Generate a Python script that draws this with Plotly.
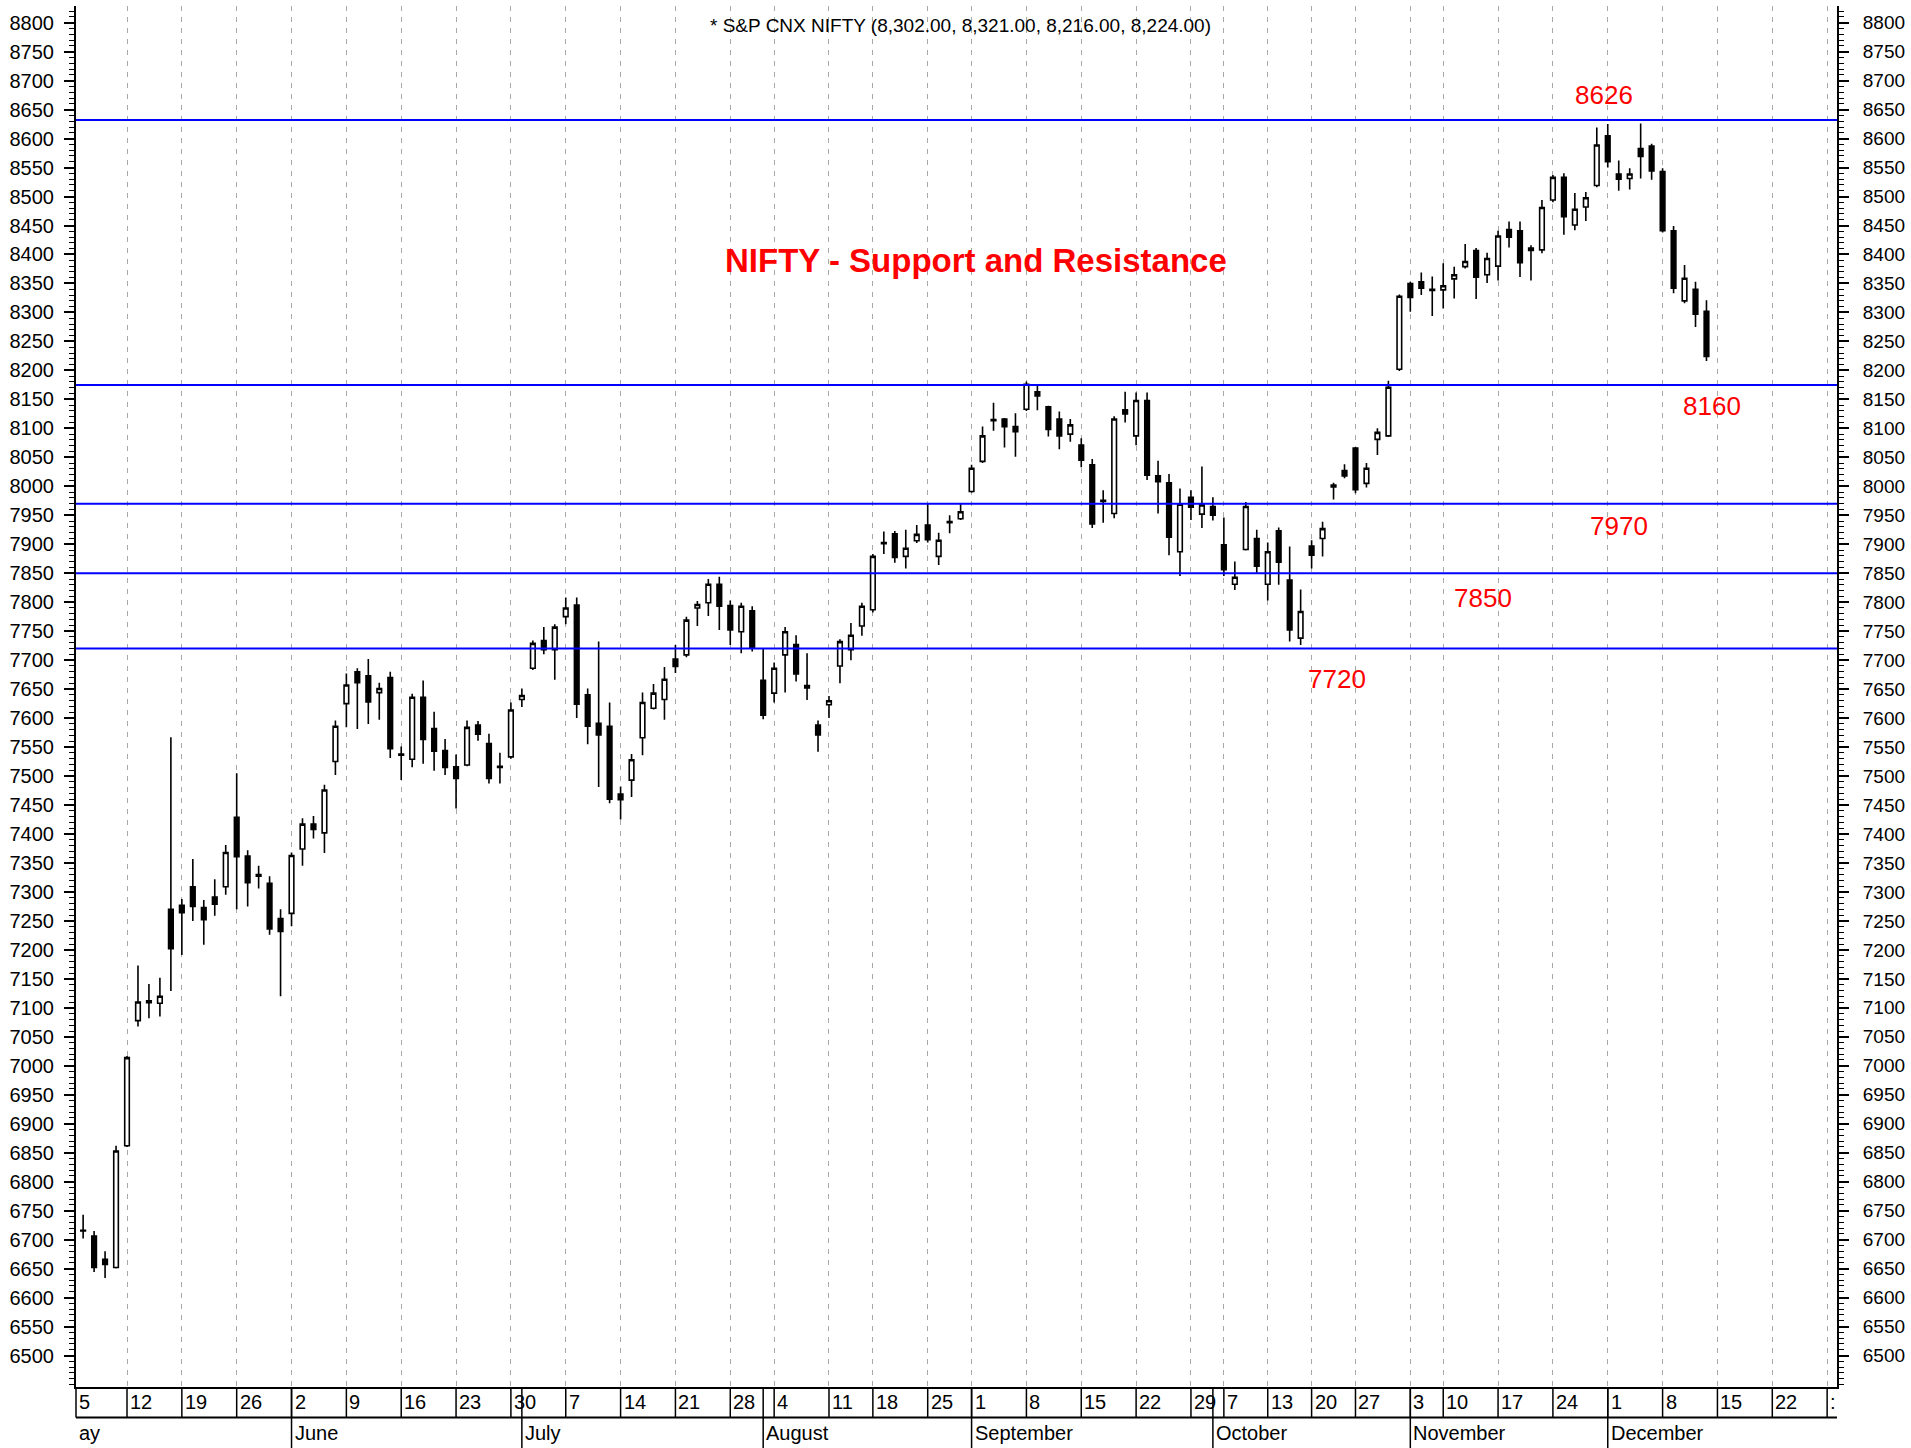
import pandas as pd
import plotly.graph_objects as go

# ---------------- data ----------------
HOLIDAYS = ["2014-07-29", "2014-08-15", "2014-08-29", "2014-10-02", "2014-10-03",
            "2014-10-06", "2014-10-15", "2014-10-24", "2014-11-04", "2014-11-06"]
FIRST_DAY = "2014-05-05"
LAST_DAY = "2014-12-12"
AXIS_END = "2014-12-31"

OPEN = [6715, 6706, 6666, 6652, 6862, 7078, 7112, 7108, 7270, 7277,
        7309, 7273, 7291, 7309, 7429, 7362, 7327, 7315, 7254, 7263,
        7374, 7417, 7402, 7525, 7625, 7680, 7673, 7644, 7670, 7536,
        7529, 7636, 7582, 7544, 7516, 7519, 7588, 7556, 7515, 7533,
        7632, 7686, 7734, 7718, 7775, 7795, 7640, 7591, 7586, 7469,
        7493, 7566, 7617, 7632, 7702, 7709, 7790, 7799, 7831, 7794,
        7749, 7785, 7665, 7643, 7709, 7727, 7656, 7588, 7623, 7690,
        7718, 7759, 7787, 7901, 7918, 7879, 7906, 7933, 7879, 7937,
        7944, 7991, 8043, 8113, 8116, 8103, 8133, 8163, 8137, 8116,
        8090, 8071, 8037, 7974, 7953, 8132, 8087, 8148, 8018, 8006,
        7887, 7981, 7952, 7965, 7899, 7831, 7891, 7910, 7831, 7923,
        7838, 7738, 7897, 7910, 7999, 8027, 8066, 8005, 8081, 8087,
        8202, 8350, 8353, 8338, 8339, 8358, 8379, 8407, 8365, 8380,
        8443, 8441, 8411, 8408, 8494, 8533, 8451, 8482, 8519, 8605,
        8539, 8531, 8583, 8587, 8543, 8441, 8320, 8340, 8302]
HIGH = [6743, 6715, 6680, 6862, 7017, 7173, 7141, 7152, 7567, 7288,
        7357, 7286, 7322, 7381, 7505, 7372, 7345, 7327, 7270, 7368,
        7427, 7431, 7485, 7596, 7677, 7686, 7702, 7661, 7680, 7551,
        7642, 7665, 7611, 7564, 7537, 7596, 7595, 7573, 7540, 7627,
        7651, 7734, 7757, 7762, 7808, 7808, 7651, 7732, 7627, 7482,
        7538, 7644, 7659, 7688, 7726, 7775, 7802, 7840, 7844, 7803,
        7799, 7793, 7720, 7696, 7757, 7743, 7712, 7596, 7638, 7736,
        7764, 7799, 7883, 7922, 7923, 7925, 7933, 7971, 7920, 7950,
        7970, 8037, 8103, 8144, 8118, 8126, 8181, 8176, 8139, 8129,
        8116, 8083, 8047, 7993, 8121, 8163, 8162, 8162, 8044, 8021,
        7996, 7993, 8034, 7981, 7946, 7870, 7973, 7925, 7903, 7929,
        7896, 7822, 7907, 7939, 8006, 8038, 8068, 8040, 8100, 8182,
        8331, 8353, 8369, 8362, 8385, 8379, 8418, 8411, 8403, 8441,
        8457, 8457, 8416, 8494, 8537, 8540, 8506, 8508, 8619, 8625,
        8562, 8549, 8626, 8591, 8549, 8449, 8382, 8353, 8321]
LOW = [6702, 6644, 6634, 6650, 6860, 7068, 7082, 7085, 7129, 7191,
       7250, 7209, 7259, 7295, 7270, 7275, 7306, 7226, 7120, 7241,
       7345, 7392, 7367, 7502, 7584, 7581, 7590, 7597, 7531, 7493,
       7515, 7521, 7509, 7502, 7444, 7517, 7561, 7487, 7487, 7530,
       7619, 7683, 7710, 7666, 7762, 7600, 7555, 7481, 7453, 7425,
       7464, 7536, 7615, 7597, 7678, 7705, 7759, 7776, 7752, 7726,
       7712, 7715, 7598, 7627, 7644, 7663, 7631, 7542, 7600, 7660,
       7700, 7742, 7782, 7883, 7868, 7858, 7902, 7903, 7864, 7919,
       7942, 7989, 8040, 8096, 8067, 8051, 8130, 8131, 8086, 8064,
       8077, 8033, 7928, 7937, 7945, 8110, 8071, 8011, 7953, 7881,
       7845, 7942, 7928, 7941, 7845, 7821, 7889, 7851, 7803, 7830,
       7732, 7726, 7858, 7879, 7977, 8014, 7988, 7998, 8054, 8085,
       8199, 8301, 8330, 8294, 8307, 8324, 8376, 8323, 8351, 8355,
       8412, 8361, 8355, 8402, 8490, 8434, 8442, 8458, 8516, 8550,
       8510, 8512, 8531, 8529, 8438, 8333, 8316, 8275, 8216]
CLOSE = [6716, 6652, 6657, 6853, 7014, 7110, 7109, 7120, 7202, 7264,
         7275, 7252, 7279, 7368, 7361, 7316, 7330, 7236, 7232, 7363,
         7417, 7408, 7476, 7586, 7657, 7661, 7628, 7651, 7547, 7538,
         7636, 7563, 7543, 7515, 7496, 7584, 7572, 7496, 7517, 7614,
         7639, 7729, 7718, 7757, 7790, 7624, 7586, 7571, 7460, 7459,
         7528, 7627, 7643, 7667, 7689, 7769, 7796, 7831, 7793, 7752,
         7793, 7722, 7605, 7686, 7749, 7676, 7652, 7571, 7630, 7732,
         7743, 7793, 7879, 7903, 7877, 7893, 7917, 7908, 7907, 7939,
         7956, 8031, 8087, 8115, 8103, 8094, 8176, 8156, 8098, 8087,
         8106, 8045, 7935, 7976, 8116, 8125, 8148, 8019, 8008, 7912,
         7969, 7964, 7968, 7950, 7856, 7843, 7965, 7862, 7887, 7869,
         7752, 7784, 7881, 7927, 8002, 8018, 7994, 8031, 8093, 8171,
         8328, 8326, 8342, 8340, 8346, 8365, 8388, 8361, 8393, 8432,
         8430, 8386, 8407, 8481, 8533, 8465, 8478, 8498, 8589, 8560,
         8530, 8539, 8569, 8544, 8441, 8342, 8359, 8297, 8224]

Y_TICKS = list(range(6500, 8801, 50))
LEVELS = [8632, 8175, 7970, 7850, 7720]
LEVEL_LABELS = ["8626", "8160", "7970", "7850", "7720"]
TITLE = "* S&P CNX NIFTY (8,302.00, 8,321.00, 8,216.00, 8,224.00)"
HEADLINE = "NIFTY - Support and Resistance"
MONTH_NAMES = {5: "May", 6: "June", 7: "July", 8: "August", 9: "September",
               10: "October", 11: "November", 12: "December"}

# ---------------- trading-day axis ----------------
trading = [d for d in pd.bdate_range(FIRST_DAY, LAST_DAY)
           if d.strftime("%Y-%m-%d") not in HOLIDAYS]
future = list(pd.bdate_range(pd.Timestamp(LAST_DAY) + pd.Timedelta(days=3), AXIS_END))
axis_days = trading + future
candle_x = list(range(1, len(trading)))          # first visible candle is May 6
assert len(candle_x) == len(OPEN) == len(HIGH) == len(LOW) == len(CLOSE)

week_ticks, month_starts = [], []
prev_w, prev_m = None, None
for i, d in enumerate(axis_days):
    w = d.isocalendar()[1]
    if w != prev_w:
        week_ticks.append(i)
        prev_w = w
    if d.month != prev_m:
        month_starts.append(i)
        prev_m = d.month

X_RANGE = [0.35, 160.9]
Y_RANGE = [6445.7, 8828.8]

FONT = "Arial, 'Liberation Sans', sans-serif"
NARROW = "'Liberation Sans Narrow', 'Arial Narrow', Arial, 'Liberation Sans', sans-serif"

fig = go.Figure()
fig.add_trace(go.Candlestick(
    x=candle_x, open=OPEN, high=HIGH, low=LOW, close=CLOSE,
    increasing=dict(line=dict(color="black", width=1.6), fillcolor="white"),
    decreasing=dict(line=dict(color="black", width=1.6), fillcolor="black"),
    whiskerwidth=0, showlegend=False, hoverinfo="skip"))
fig.add_trace(go.Scatter(x=[None], y=[None], yaxis="y2", showlegend=False, hoverinfo="skip"))

shapes = []
for lv in LEVELS:
    shapes.append(dict(type="line", xref="paper", x0=0, x1=1, yref="y", y0=lv, y1=lv,
                       line=dict(color="#0000FF", width=2), layer="above"))

DAY_ROW = -0.0221
MONTH_ROW = -0.0442
# date band borders
shapes.append(dict(type="line", xref="paper", x0=0, x1=1, yref="paper", y0=DAY_ROW, y1=DAY_ROW,
                   line=dict(color="black", width=2)))
shapes.append(dict(type="line", xref="paper", x0=0, x1=0, yref="paper", y0=0, y1=DAY_ROW,
                   line=dict(color="black", width=1.5)))
for t in week_ticks:
    if X_RANGE[0] < t < X_RANGE[1]:
        shapes.append(dict(type="line", xref="x", x0=t, x1=t, yref="paper", y0=0, y1=DAY_ROW,
                           line=dict(color="black", width=1.5)))
for m in month_starts:
    if X_RANGE[0] < m < X_RANGE[1]:
        shapes.append(dict(type="line", xref="x", x0=m, x1=m, yref="paper", y0=0, y1=MONTH_ROW,
                           line=dict(color="black", width=1.5)))

annotations = []
for t in week_ticks:
    if t <= X_RANGE[0]:
        txt, xx, xr = str(axis_days[t].day), 0, "paper"
    elif t > X_RANGE[1] - 1:
        txt, xx, xr = ":", t, "x"
    else:
        txt, xx, xr = str(axis_days[t].day), t, "x"
    annotations.append(dict(text=txt, x=xx, xref=xr, y=DAY_ROW / 2, yref="paper",
                            xanchor="left", yanchor="middle", xshift=1, showarrow=False,
                            font=dict(family=NARROW, size=20, color="black")))
for m in month_starts:
    name = MONTH_NAMES[axis_days[m].month]
    if m <= X_RANGE[0]:
        txt, xx, xr = name[1:], 0, "paper"
    else:
        txt, xx, xr = name, m, "x"
    annotations.append(dict(text=txt, x=xx, xref=xr, y=(DAY_ROW + MONTH_ROW) / 2, yref="paper",
                            xanchor="left", yanchor="middle", xshift=1, showarrow=False,
                            font=dict(family=NARROW, size=20, color="black")))

annotations.append(dict(text=TITLE, x=0.502, xref="paper", y=0.9858, yref="paper",
                        xanchor="center", yanchor="middle", showarrow=False,
                        font=dict(family=NARROW, size=19, color="black")))
annotations.append(dict(text="<b>" + HEADLINE + "</b>", x=0.511, xref="paper", y=0.8155,
                        yref="paper", xanchor="center", yanchor="middle", showarrow=False,
                        font=dict(family=FONT, size=33, color="#FF0000")))
label_pos = [(139.7, 8675), (149.5, 8139), (141.0, 7931), (128.65, 7808), (115.3, 7668)]
for txt, (lx, ly) in zip(LEVEL_LABELS, label_pos):
    annotations.append(dict(text=txt, x=lx, xref="x", y=ly, yref="y", xanchor="center",
                            yanchor="middle", showarrow=False,
                            font=dict(family=FONT, size=26, color="#FF0000")))

yax = dict(range=Y_RANGE, tickmode="array", tickvals=Y_TICKS, automargin=False,
           ticktext=[str(v) for v in Y_TICKS], showgrid=False, zeroline=False,
           ticks="outside", ticklen=10, tickwidth=1.5, tickcolor="black",
           showline=True, linecolor="black", linewidth=2,
           minor=dict(dtick=10, tick0=0, ticks="outside", ticklen=5, tickwidth=1,
                      tickcolor="black", showgrid=False))

fig.update_layout(
    width=1911, height=1448, autosize=False,
    margin=dict(l=76, r=74, t=6, b=61, pad=0, autoexpand=False),
    paper_bgcolor="white", plot_bgcolor="white",
    showlegend=False, boxgap=0.4,
    xaxis=dict(range=X_RANGE, tickmode="array", tickvals=week_ticks, showticklabels=False,
               ticks="", showgrid=True, gridcolor="#A8A8A8", gridwidth=1, griddash="5px,6px",
               zeroline=False, showline=True, linecolor="black", linewidth=2,
               automargin=False, rangeslider=dict(visible=False), fixedrange=True),
    yaxis=dict(side="left", ticklabelstandoff=6,
               tickfont=dict(family=FONT, size=20, color="black"), **yax),
    yaxis2=dict(side="right", overlaying="y", ticklabelstandoff=10,
                tickfont=dict(family=FONT, size=19, color="black"), **yax),
    shapes=shapes, annotations=annotations,
)

fig.write_html("out.html", config={"displayModeBar": False},
               post_script="document.body.style.margin='0';")
